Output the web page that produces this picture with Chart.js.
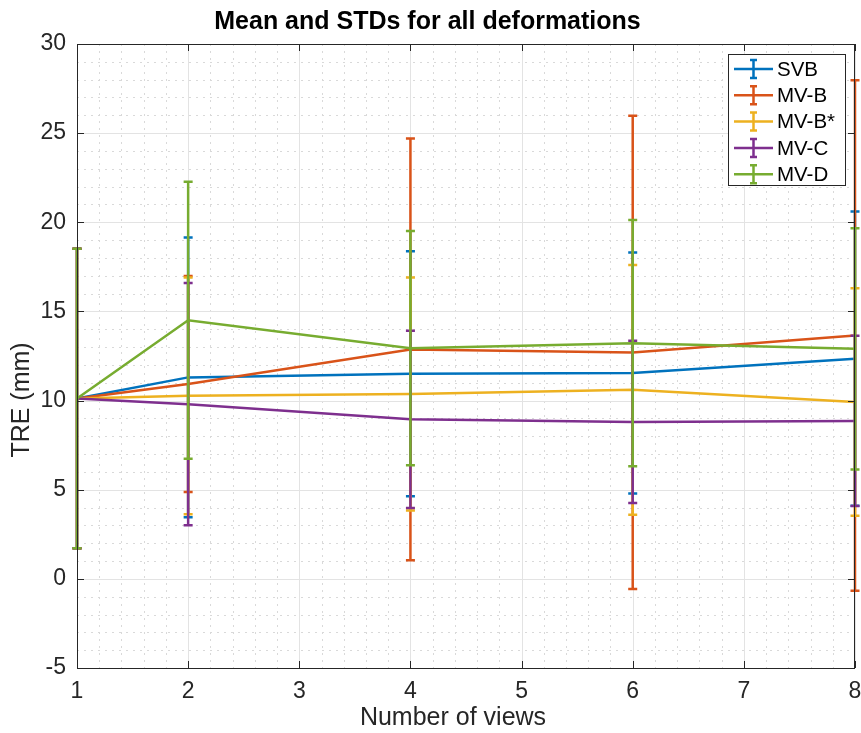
<!DOCTYPE html>
<html>
<head>
<meta charset="utf-8">
<title>Mean and STDs for all deformations</title>
<script src="https://cdn.jsdelivr.net/npm/chart.js@4/dist/chart.umd.min.js"></script>
<style>
    html, body { margin: 0; padding: 0; background: #fff; }
    #wrap { width: 861px; height: 733px; }
</style>
</head>
<body>
<div id="wrap"><canvas id="treChart"></canvas></div>
<script>
// number of views (x positions)
const views = [1, 2, 4, 6, 8];
const seriesNames = ['SVB', 'MV-B', 'MV-B*', 'MV-C', 'MV-D'];
const seriesColors = ['#0072BD', '#D95319', '#EDB120', '#7E2F8E', '#77AC30'];

// mean TRE (mm)
const svbMean  = [10.12, 11.30, 11.50, 11.55, 12.35];
const mvbMean  = [10.12, 10.93, 12.87, 12.70, 13.65];
const mvbsMean = [10.12, 10.27, 10.37, 10.60, 9.92];
const mvcMean  = [10.12, 9.80, 8.95, 8.80, 8.86];
const mvdMean  = [10.12, 14.50, 12.94, 13.22, 12.90];

// standard deviations (mm)
const svbStd  = [8.40, 7.85, 6.87, 6.76, 8.25];
const mvbStd  = [8.40, 6.06, 11.83, 13.27, 14.32];
const mvbsStd = [8.40, 6.64, 6.54, 7.00, 6.38];
const mvcStd  = [8.40, 6.80, 4.97, 4.55, 4.78];
const mvdStd  = [8.40, 7.77, 6.57, 6.91, 6.77];

const yTicks = [-5, 0, 5, 10, 15, 20, 25, 30];
const xTicks = [1, 2, 3, 4, 5, 6, 7, 8];

const means = [svbMean, mvbMean, mvbsMean, mvcMean, mvdMean];
const stds = [svbStd, mvbStd, mvbsStd, mvcStd, mvdStd];

const FONT = "'Liberation Sans', Arial, Helvetica, sans-serif";
const AXIS_COLOR = '#262626';

// MATLAB-ish grid, box, inward ticks, labels and legend
const matlabAxes = {
    id: 'matlabAxes',
    beforeDatasetsDraw(chart) {
        const { ctx, chartArea: a, scales: { x, y } } = chart;
        ctx.save();
        ctx.lineWidth = 1;
        // minor dotted grid
        ctx.strokeStyle = '#d9d9d9';
        ctx.setLineDash([2, 5]);
        for (let v = 1; v <= 8.001; v += 0.2) {
            if (Math.abs(v - Math.round(v)) < 0.01) continue;
            const px = Math.round(x.getPixelForValue(v)) + 0.5;
            ctx.beginPath(); ctx.moveTo(px, a.top); ctx.lineTo(px, a.bottom); ctx.stroke();
        }
        for (let v = -5; v <= 30; v += 1) {
            if (v % 5 === 0) continue;
            const py = Math.round(y.getPixelForValue(v)) + 0.5;
            ctx.beginPath(); ctx.moveTo(a.left, py); ctx.lineTo(a.right, py); ctx.stroke();
        }
        // major grid
        ctx.setLineDash([]);
        ctx.strokeStyle = '#e3e3e3';
        xTicks.forEach(v => {
            const px = Math.round(x.getPixelForValue(v)) + 0.5;
            ctx.beginPath(); ctx.moveTo(px, a.top); ctx.lineTo(px, a.bottom); ctx.stroke();
        });
        yTicks.forEach(v => {
            const py = Math.round(y.getPixelForValue(v)) + 0.5;
            ctx.beginPath(); ctx.moveTo(a.left, py); ctx.lineTo(a.right, py); ctx.stroke();
        });
        ctx.restore();
    },
    afterDatasetDraw(chart, args) {
        // error bars for this series
        const { ctx, scales: { y } } = chart;
        const i = args.index;
        ctx.save();
        ctx.strokeStyle = seriesColors[i];
        ctx.lineWidth = 2.5;
        ctx.lineCap = 'butt';
        args.meta.data.forEach((pt, j) => {
            const top = y.getPixelForValue(means[i][j] + stds[i][j]);
            const bot = y.getPixelForValue(means[i][j] - stds[i][j]);
            ctx.beginPath();
            ctx.moveTo(pt.x, top); ctx.lineTo(pt.x, bot);
            ctx.moveTo(pt.x - 4.5, top); ctx.lineTo(pt.x + 4.5, top);
            ctx.moveTo(pt.x - 4.5, bot); ctx.lineTo(pt.x + 4.5, bot);
            ctx.stroke();
        });
        ctx.restore();
    },
    afterDraw(chart) {
        const { ctx, chartArea: a, scales: { x, y } } = chart;
        ctx.save();
        ctx.strokeStyle = AXIS_COLOR;
        ctx.lineWidth = 1;
        ctx.strokeRect(Math.round(a.left) + 0.5, Math.round(a.top) + 0.5,
            Math.round(a.right - a.left) - 1, Math.round(a.bottom - a.top));
        const tl = 7;
        ctx.beginPath();
        xTicks.forEach(v => {
            const px = Math.round(x.getPixelForValue(v)) + 0.5;
            ctx.moveTo(px, a.bottom); ctx.lineTo(px, a.bottom - tl);
            ctx.moveTo(px, a.top); ctx.lineTo(px, a.top + tl);
        });
        yTicks.forEach(v => {
            const py = Math.round(y.getPixelForValue(v)) + 0.5;
            ctx.moveTo(a.left, py); ctx.lineTo(a.left + tl, py);
            ctx.moveTo(a.right, py); ctx.lineTo(a.right - tl, py);
        });
        ctx.stroke();

        // axis labels
        ctx.fillStyle = AXIS_COLOR;
        ctx.font = '25px ' + FONT;
        ctx.textAlign = 'center';
        ctx.textBaseline = 'middle';
        ctx.fillText('Number of views', 453, 718);
        ctx.save();
        ctx.translate(22, 400);
        ctx.rotate(-Math.PI / 2);
        ctx.fillText('TRE (mm)', 0, 0);
        ctx.restore();

        // legend box, upper right
        const bx = 728.5, by = 54.5, bw = 117, bh = 131;
        ctx.fillStyle = '#fff';
        ctx.fillRect(bx, by, bw, bh);
        ctx.strokeStyle = AXIS_COLOR;
        ctx.strokeRect(bx, by, bw, bh);
        ctx.font = '20.5px ' + FONT;
        ctx.textBaseline = 'middle';
        ctx.textAlign = 'left';
        seriesNames.forEach((name, i) => {
            const cy = 69 + i * 26.3;
            ctx.strokeStyle = seriesColors[i];
            ctx.lineWidth = 2.5;
            ctx.beginPath();
            ctx.moveTo(734, cy); ctx.lineTo(773, cy);
            ctx.moveTo(753.5, cy - 9); ctx.lineTo(753.5, cy + 9);
            ctx.moveTo(750, cy - 9); ctx.lineTo(757, cy - 9);
            ctx.moveTo(750, cy + 9); ctx.lineTo(757, cy + 9);
            ctx.stroke();
            ctx.fillStyle = '#000';
            ctx.fillText(name, 777, cy + 1);
        });
        ctx.restore();
    }
};

const datasets = seriesNames.map((name, i) => ({
    label: name,
    data: views.map((v, j) => ({ x: v, y: means[i][j] })),
    borderColor: seriesColors[i],
    backgroundColor: seriesColors[i],
    borderWidth: 2.5,
    pointRadius: 0,
    tension: 0,
    fill: false,
    clip: false,
    order: seriesNames.length - i
}));

Chart.defaults.font.family = FONT;

const treChartCtx = document.getElementById('treChart').getContext('2d');
const treChart = new Chart(treChartCtx, {
    type: 'line',
    data: { datasets },
    plugins: [matlabAxes],
    options: {
        responsive: true,
        maintainAspectRatio: false,
        animation: false,
        layout: { padding: { left: 0, right: 6, top: 0, bottom: 0 } },
        plugins: {
            legend: { display: false },
            tooltip: { enabled: false },
            title: {
                display: true,
                text: 'Mean and STDs for all deformations',
                color: '#000',
                font: { size: 25, weight: 'bold' },
                padding: { top: 7, bottom: 7 }
            }
        },
        scales: {
            x: {
                type: 'linear',
                min: 1,
                max: 8,
                afterFit: s => { s.height = 65; s.paddingLeft = 0; s.paddingRight = 0; },
                afterBuildTicks: s => { s.ticks = xTicks.map(v => ({ value: v })); },
                grid: { display: false, drawTicks: false },
                border: { display: false },
                ticks: { color: AXIS_COLOR, font: { size: 23 }, padding: 10, maxRotation: 0 }
            },
            y: {
                type: 'linear',
                min: -5,
                max: 30,
                afterFit: s => { s.width = 77; s.paddingTop = 0; s.paddingBottom = 0; },
                afterBuildTicks: s => { s.ticks = yTicks.map(v => ({ value: v })); },
                grid: { display: false, drawTicks: false },
                border: { display: false },
                ticks: { color: AXIS_COLOR, font: { size: 23 }, padding: 11 }
            }
        }
    }
});
</script>
</body>
</html>
